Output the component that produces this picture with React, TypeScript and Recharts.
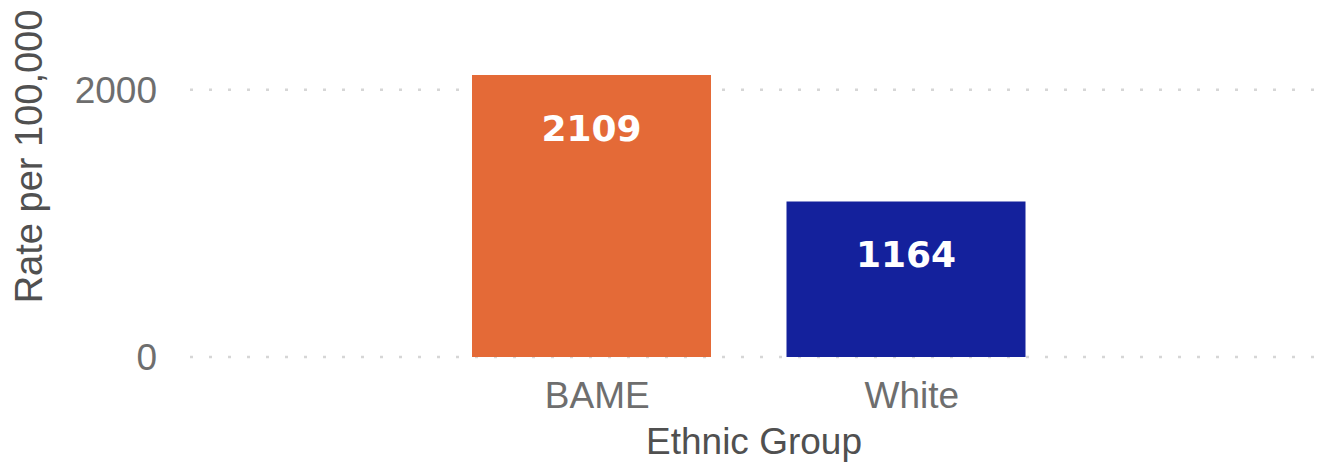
import { BarChart, Bar, XAxis, YAxis, CartesianGrid, Cell, LabelList, Label } from "recharts";

const groups = ["BAME", "White"];
const rates = [2109, 1164];
const yTicks = [0, 2000];

const barColors = ["#E46A37", "#14219C"];

const data = groups.map((g, i) => ({ group: g, rate: rates[i] }));

export default function App() {
	// the original is cropped at the top, so the plot runs above the window
	return (
		<div style={{ position: "absolute", left: 0, top: -44, background: "#fff" }}>
			<BarChart
				width={1323}
				height={508}
				data={data}
				margin={{ top: 0, right: 5, left: 0, bottom: 0 }}
			>
				<CartesianGrid
					vertical={false}
					stroke="#d6d6d6"
					strokeWidth={2.5}
					strokeDasharray="3 16"
				/>
				<XAxis
					dataKey="group"
					height={107}
					padding={{ left: 244, right: 255 }}
					axisLine={false}
					tickLine={false}
					tickSize={0}
					tickMargin={25}
					tick={{ fill: "#6e6e6e", fontSize: 37, dx: 6, fontFamily: "Liberation Sans, Arial, sans-serif" }}
				>
					<Label
						value="Ethnic Group"
						position="insideBottom"
						offset={10}
						style={{ fill: "#505050", fontSize: 37, fontFamily: "Liberation Sans, Arial, sans-serif" }}
					/>
				</XAxis>
				<YAxis
					width={190}
					domain={[0, 3000]}
					ticks={yTicks}
					axisLine={false}
					tickLine={false}
					tickSize={0}
					tickMargin={33}
					tick={{ fill: "#6e6e6e", fontSize: 37, fontFamily: "Liberation Sans, Arial, sans-serif" }}
				>
					<Label
						value="Rate per 100,000"
						angle={-90}
						position="insideLeft"
						offset={29}
						style={{
							textAnchor: "middle",
							fill: "#505050",
							fontSize: 38,
							fontFamily: "Liberation Sans, Arial, sans-serif",
						}}
					/>
				</YAxis>
				<Bar dataKey="rate" barSize={239} isAnimationActive={false}>
					{data.map((d, i) => (
						<Cell key={d.group} fill={barColors[i]} />
					))}
					<LabelList
						dataKey="rate"
						position="insideTop"
						offset={40}
						style={{
							fill: "#ffffff",
							fontSize: 36,
							fontWeight: "bold",
							fontFamily: "DejaVu Sans, Verdana, sans-serif",
						}}
					/>
				</Bar>
			</BarChart>
		</div>
	);
}
